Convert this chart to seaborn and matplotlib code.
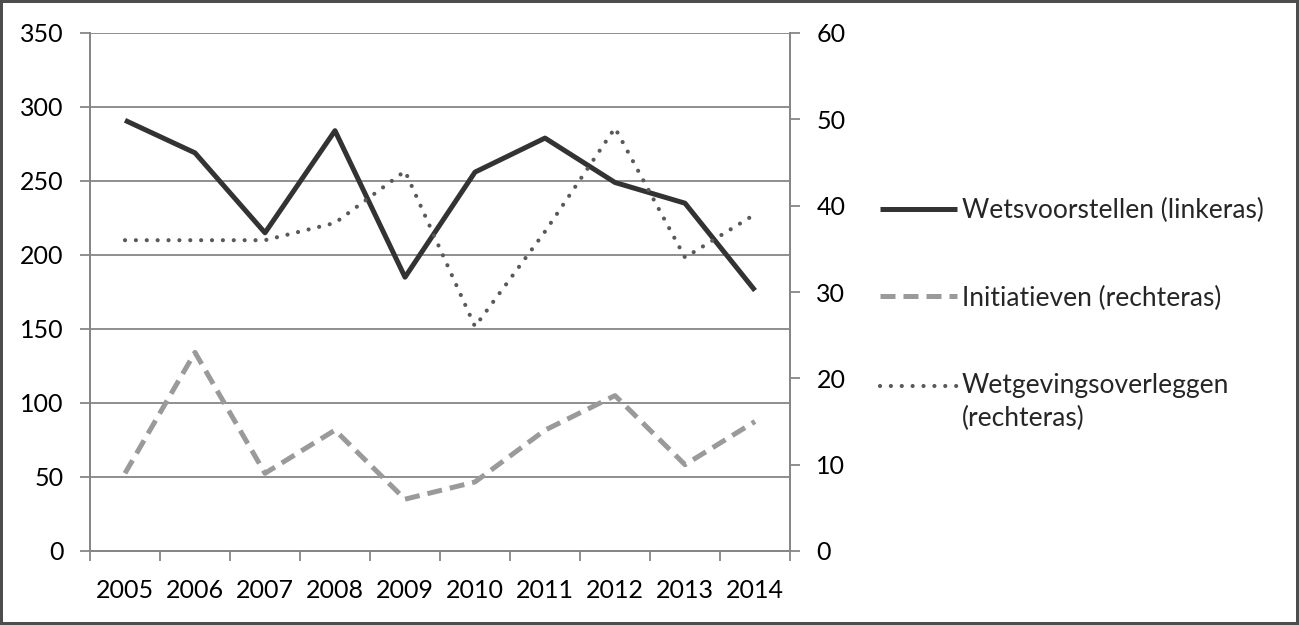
import matplotlib
matplotlib.use("Agg")
import matplotlib.pyplot as plt
import seaborn as sns
import pandas as pd
from matplotlib.ticker import FixedLocator, FixedFormatter, NullFormatter

years = [2005, 2006, 2007, 2008, 2009, 2010, 2011, 2012, 2013, 2014]
wetsvoorstellen = [291, 269, 215, 284, 185, 256, 279, 249, 235, 176]
initiatieven = [9, 23, 9, 14, 6, 8, 14, 18, 10, 15]
wetgevingsoverleggen = [36, 36, 36, 38, 44, 26, 37, 49, 34, 39]
series_labels = ["Wetsvoorstellen (linkeras)", "Initiatieven (rechteras)",
                 "Wetgevingsoverleggen\n(rechteras)"]
left_ticks = [0, 50, 100, 150, 200, 250, 300, 350]
right_ticks = [0, 10, 20, 30, 40, 50, 60]

sns.set_style("white")
plt.rcParams['font.family'] = ['Lato', 'DejaVu Sans']
FS = 18
LFS = 19
GRID = "#868686"

df = pd.DataFrame({"jaar": years, "wets": wetsvoorstellen,
                   "init": initiatieven, "wgo": wetgevingsoverleggen})

fig = plt.figure(figsize=(12.99, 6.25), dpi=100)
fig.patch.set_edgecolor("#4d4d4d")
fig.patch.set_linewidth(3)
ax = fig.add_axes([90 / 1299, 1 - 551 / 625, 700 / 1299, 518 / 625])
ax2 = ax.twinx()

sns.lineplot(data=df, x="jaar", y="wets", ax=ax, color="#333333",
             linewidth=3.6, solid_capstyle="butt", legend=False)
sns.lineplot(data=df, x="jaar", y="init", ax=ax2, color="#9a9a9a",
             linewidth=3.6, linestyle=(0, (3, 1.6)), legend=False)
sns.lineplot(data=df, x="jaar", y="wgo", ax=ax2, color="#595959",
             linewidth=3.0, linestyle=(0, (0.01, 2.6)), legend=False)
ax2.lines[-1].set_dash_capstyle("round")

ax.set_xlim(2004.5, 2014.5)
ax.set_ylim(0, 350)
ax2.set_ylim(0, 60)
ax.set_xlabel("")
ax.set_ylabel("")
ax2.set_ylabel("")

ax.yaxis.set_major_locator(FixedLocator(left_ticks))
ax2.yaxis.set_major_locator(FixedLocator(right_ticks))
ax.xaxis.set_major_locator(FixedLocator([2004.5 + i for i in range(11)]))
ax.xaxis.set_major_formatter(NullFormatter())
ax.xaxis.set_minor_locator(FixedLocator(years))
ax.xaxis.set_minor_formatter(FixedFormatter([str(y) for y in years]))

ax.yaxis.grid(True, color=GRID, linewidth=1.3)
ax.set_axisbelow(True)

for a in (ax, ax2):
    for s in a.spines.values():
        s.set_color(GRID)
        s.set_linewidth(1.3)
    a.spines["top"].set_visible(False)

ax.tick_params(axis="y", left=True, direction="out", length=7, width=1.3,
               color=GRID, labelsize=FS, pad=12, labelcolor="#000000")
ax2.tick_params(axis="y", right=True, direction="out", length=7, width=1.3,
                color=GRID, labelsize=FS, pad=12, labelcolor="#000000")
ax.tick_params(axis="x", which="major", bottom=True, direction="out",
               length=7, width=1.3, color=GRID)
ax.tick_params(axis="x", which="minor", bottom=True, length=0,
               labelsize=FS, pad=20, labelcolor="#000000")

handles = [ax.lines[0], ax2.lines[0], ax2.lines[1]]
leg = fig.legend(handles, series_labels, loc="upper left",
                 bbox_to_anchor=(880 / 1299, 1 - 198 / 625),
                 frameon=False, fontsize=LFS, handlelength=2.9,
                 handletextpad=0.2, labelspacing=2.37,
                 borderaxespad=0, borderpad=0)
leg.get_texts()[2].set_linespacing(1.39)
ln = leg.get_lines()[2]
ln.set_ydata([y + 12 for y in ln.get_ydata()])

fig.savefig("out.png", dpi=100)
